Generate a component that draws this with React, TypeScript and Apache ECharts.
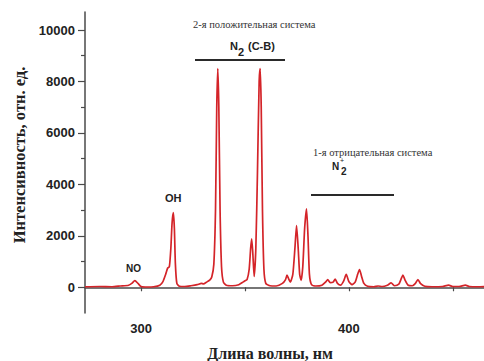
import React, { useEffect, useRef } from "react";
import * as echarts from "echarts";

// Wavelength (nm) and intensity (rel. units)
const wavelengths = [
  273, 280, 286, 290, 294, 295.5, 297, 298.5, 300, 303, 306, 309, 310.5, 311.8, 312.8, 313.6, 314.3, 314.9,
  315.5, 316, 316.5, 317.2, 318.5, 321, 324, 327, 329, 330, 331.5, 333, 334, 335, 335.8, 336.4, 336.9, 337.4,
  338, 338.7, 339.6, 341, 344, 347, 349, 350, 351, 352, 352.7, 353.2, 353.7, 354.4, 355.2, 356, 356.8, 357.3,
  357.8, 358.4, 359.1, 360, 362, 365, 368, 369.5, 370.2, 371, 371.8, 373, 374, 374.8, 375.6, 376.3, 377, 377.8,
  378.7, 379.6, 380.3, 381, 382, 384, 387, 389, 389.8, 391, 392.4, 393.4, 394.5, 396, 397.5, 398.7, 400, 401.5,
  403, 404, 405.1, 406, 407.2, 409, 412, 414, 416, 418.5, 420.3, 422, 424, 425, 426, 427, 428.5, 430.5, 432,
  433.2, 434.5, 436.5, 440, 445, 448, 450, 453, 456, 458, 462, 466,
];
const intensity = [
  20, 30, 20, 50, 80, 150, 260, 150, 30, 10, 20, 80, 220, 500, 750, 800, 1500, 2500,
  2900, 2300, 900, 150, 40, 30, 60, 100, 150, 130, 200, 280, 400, 900, 3000, 7000, 8500, 7000,
  3000, 800, 200, 80, 60, 100, 200, 250, 300, 700, 1500, 1880, 1400, 420, 1500, 4500, 8000, 8500,
  7000, 3000, 700, 150, 60, 50, 150, 300, 470, 330, 200, 500, 1500, 2400, 1500, 500, 270, 800,
  2300, 3050, 2000, 500, 100, 50, 80, 220, 300, 180, 200, 320, 150, 80, 250, 500, 220, 100,
  200, 450, 690, 450, 150, 40, 20, 50, 30, 80, 170, 60, 120, 300, 470, 280, 80, 60, 150,
  300, 140, 40, 20, 30, 80, 30, 30, 80, 30, 20, 30,
];
const yMajorTicks = [0, 2000, 4000, 6000, 8000, 10000];
const yMinorTicks = [1000, 3000, 5000, 7000, 9000];
const xTicks = [300, 350, 400, 450];
const xLabels = [300, 400];

const SERIF = "'Liberation Serif', 'Times New Roman', serif";
const SANS = "'Liberation Sans', Arial, sans-serif";

export default function App() {
  const ref = useRef<HTMLDivElement>(null);
  useEffect(() => {
    if (!ref.current) return;
    const chart = echarts.init(ref.current, null, { renderer: "svg" });
    const axisColor = "#4a4a4a";
    chart.setOption({
      animation: false,
      backgroundColor: "#ffffff",
      grid: { left: 85, right: 0, top: 12, bottom: 48, containLabel: false, outerBoundsMode: "none" },
      xAxis: [
        {
          type: "value",
          min: 273,
          max: 465,
          axisLine: { show: true, lineStyle: { color: axisColor, width: 1.5 } },
          axisTick: { show: true, customValues: xTicks, length: 4, lineStyle: { color: axisColor, width: 1.2 } },
          axisLabel: {
            show: true,
            customValues: xLabels,
            formatter: (v: number) => String(v),
            margin: 9,
            fontFamily: SANS,
            fontWeight: "bold",
            fontSize: 13,
            color: "#222",
          },
          splitLine: { show: false },
          name: "Длина волны, нм",
          nameLocation: "middle",
          nameGap: 32,
          nameTextStyle: {
            fontFamily: SERIF,
            fontWeight: "bold",
            fontSize: 16,
            color: "#222",
            padding: [0, 29, 0, 0],
          },
        },
      ],
      yAxis: [
        {
          type: "value",
          min: -1000,
          max: 10700,
          axisLine: { show: true, lineStyle: { color: axisColor, width: 1.5 } },
          axisTick: { show: true, customValues: yMajorTicks, length: 7, lineStyle: { color: axisColor, width: 1.2 } },
          axisLabel: {
            show: true,
            customValues: yMajorTicks,
            formatter: (v: number) => String(v),
            margin: 10,
            fontFamily: SANS,
            fontWeight: "bold",
            fontSize: 13,
            color: "#222",
          },
          splitLine: { show: false },
          name: "Интенсивность, отн. ед.",
          nameLocation: "middle",
          nameRotate: 90,
          nameGap: 57,
          nameTextStyle: {
            fontFamily: SERIF,
            fontWeight: "bold",
            fontSize: 16.5,
            color: "#222",
            padding: [0, 0, 0, 15],
          },
        },
        {
          type: "value",
          min: -1000,
          max: 10700,
          position: "left",
          axisLine: { show: false },
          axisTick: { show: true, customValues: yMinorTicks, length: 4, lineStyle: { color: axisColor, width: 1.2 } },
          axisLabel: { show: false },
          splitLine: { show: false },
        },
      ],
      series: [
        {
          type: "line",
          xAxisIndex: 0,
          yAxisIndex: 0,
          data: wavelengths.map((w, i) => [w, intensity[i]]),
          showSymbol: false,
          smooth: 0.2,
          lineStyle: { color: "#d42429", width: 1.7 },
          clip: true,
        },
      ],
      graphic: [
        {
          type: "text",
          left: 193,
          top: 19,
          style: { text: "2-я положительная система", fontFamily: SERIF, fontSize: 10.5, fill: "#333" },
        },
        {
          type: "text",
          left: 230,
          top: 40,
          style: { text: "N", fontFamily: SANS, fontWeight: "bold", fontSize: 11, fill: "#222" },
        },
        {
          type: "text",
          left: 238,
          top: 46,
          style: { text: "2", fontFamily: SANS, fontWeight: "bold", fontSize: 11, fill: "#222" },
        },
        {
          type: "text",
          left: 248,
          top: 40,
          style: { text: "(C-B)", fontFamily: SANS, fontWeight: "bold", fontSize: 11, fill: "#222" },
        },
        {
          type: "line",
          shape: { x1: 195, y1: 60, x2: 285, y2: 60 },
          style: { stroke: "#2a2a2a", lineWidth: 2 },
        },
        {
          type: "text",
          left: 313,
          top: 147,
          style: { text: "1-я отрицательная система", fontFamily: SERIF, fontSize: 10.5, fill: "#333" },
        },
        {
          type: "text",
          left: 332,
          top: 161,
          style: { text: "N", fontFamily: SANS, fontWeight: "bold", fontSize: 10, fill: "#222" },
        },
        {
          type: "text",
          left: 340,
          top: 157,
          style: { text: "+", fontFamily: SANS, fontSize: 7, fill: "#222" },
        },
        {
          type: "text",
          left: 341,
          top: 166,
          style: { text: "2", fontFamily: SANS, fontWeight: "bold", fontSize: 10, fill: "#222" },
        },
        {
          type: "line",
          shape: { x1: 311, y1: 195, x2: 394, y2: 195 },
          style: { stroke: "#2a2a2a", lineWidth: 2 },
        },
        {
          type: "text",
          left: 165,
          top: 192,
          style: { text: "OH", fontFamily: SANS, fontWeight: "bold", fontSize: 11, fill: "#222" },
        },
        {
          type: "text",
          left: 126,
          top: 263,
          style: { text: "NO", fontFamily: SANS, fontWeight: "bold", fontSize: 10, fill: "#222" },
        },
      ],
    });
    return () => chart.dispose();
  }, []);
  return <div ref={ref} style={{ width: 484, height: 361, position: "absolute", left: 0, top: 0 }} />;
}
